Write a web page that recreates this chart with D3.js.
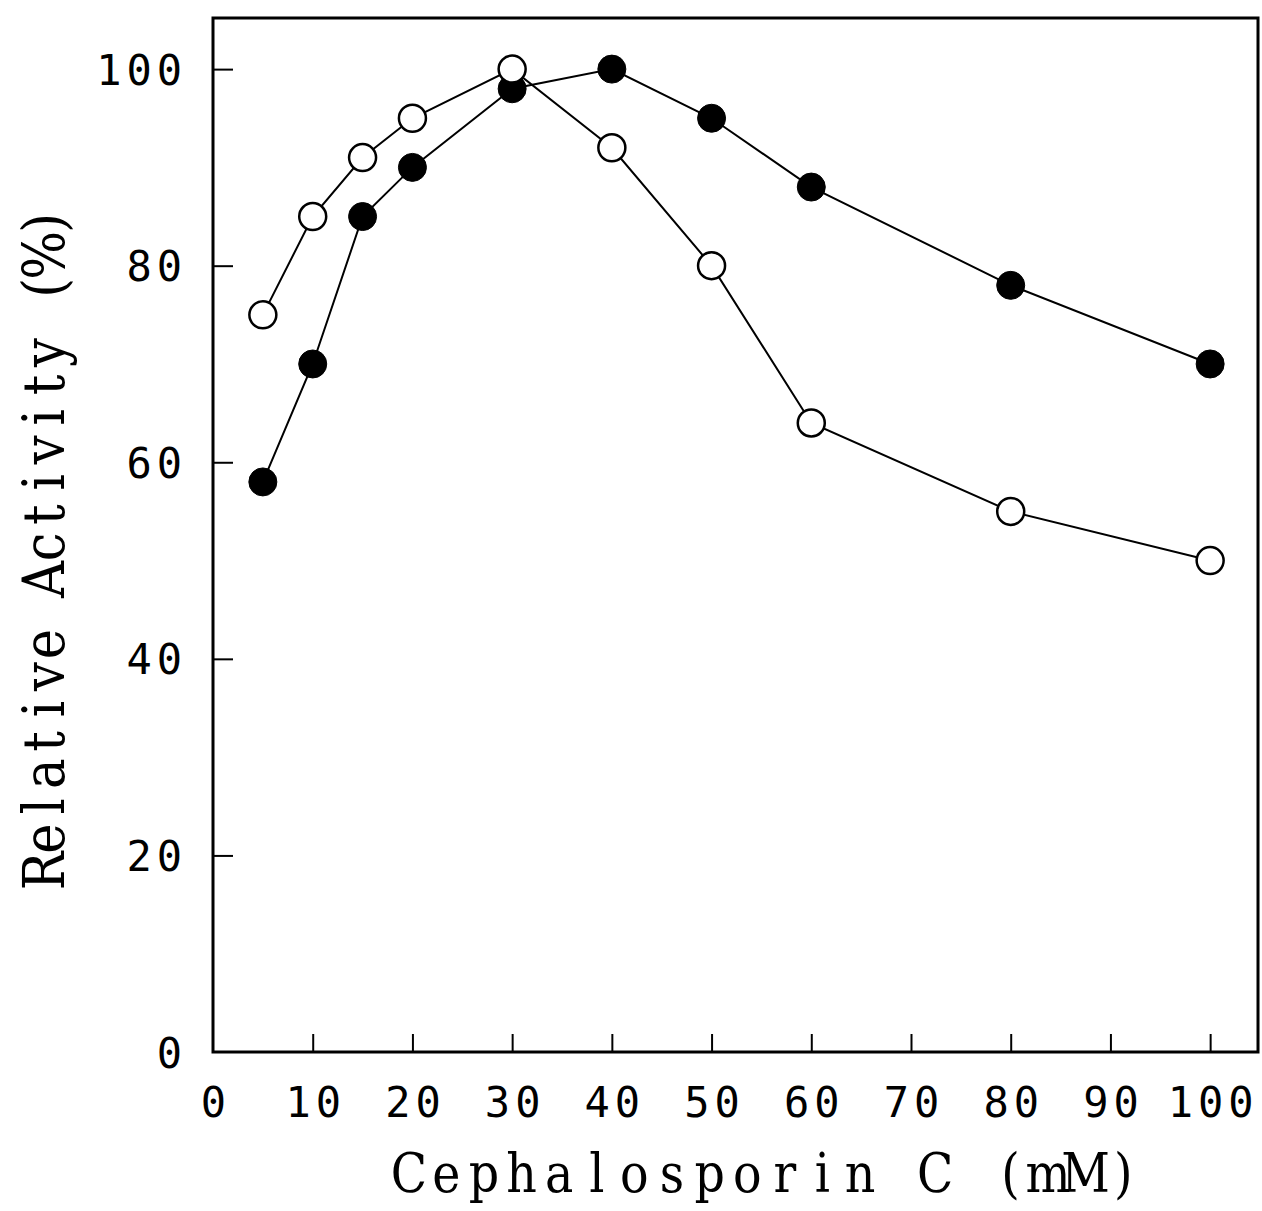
<!DOCTYPE html>
<html>
<head>
<meta charset="utf-8">
<script src="https://cdn.jsdelivr.net/npm/d3@7"></script>
<style>
  html, body { margin: 0; padding: 0; background: #fff; }
  svg { display: block; }
</style>
</head>
<body>
<svg id="chart" width="1262" height="1211"></svg>
<script>
// ---- data ----
const concentrations = [5, 10, 15, 20, 30, 40, 50, 60, 80, 100];
const openSeries   = [75, 85, 91, 95, 100, 92, 80, 64, 55, 50];
const filledSeries = [58, 70, 85, 90, 98, 100, 95, 88, 78, 70];
const xTicks = [0, 10, 20, 30, 40, 50, 60, 70, 80, 90, 100];
const yTicks = [0, 20, 40, 60, 80, 100];
const xTitle = "Cephalosporin C (mM)";
const yTitle = "Relative Activity (%)";

// ---- layout ----
const svg = d3.select("#chart");
const L = 213, R = 1258, T = 18, B = 1052;
const x = d3.scaleLinear().domain([0, 104.8]).range([L, R]);
const y = d3.scaleLinear().domain([0, 105.2]).range([B, T]);

const tickFont = "'DejaVu Sans Mono', monospace";
const titleFont = "'DejaVu Serif', serif";

// frame
svg.append("rect")
  .attr("x", L).attr("y", T).attr("width", R - L).attr("height", B - T)
  .attr("fill", "none").attr("stroke", "#000").attr("stroke-width", 3);

// bottom axis (inward ticks)
const xAxis = d3.axisBottom(x).tickValues(xTicks).tickSizeInner(-18).tickSizeOuter(0)
  .tickFormat(d3.format("d"));
const gx = svg.append("g").attr("transform", `translate(0,${B})`).call(xAxis);
gx.select(".domain").remove();
gx.selectAll(".tick line").attr("stroke", "#000").attr("stroke-width", 2)
  .filter(d => d === 0).remove();
gx.selectAll(".tick text")
  .attr("font-family", tickFont).attr("font-size", 42).attr("fill", "#000")
  .attr("letter-spacing", 5)
  .attr("dy", null).attr("y", 65).attr("dx", 2.5);

// left axis (inward ticks)
const yAxis = d3.axisLeft(y).tickValues(yTicks).tickSizeInner(-20).tickSizeOuter(0)
  .tickFormat(d3.format("d"));
const gy = svg.append("g").attr("transform", `translate(${L},0)`).call(yAxis);
gy.select(".domain").remove();
gy.selectAll(".tick line").attr("stroke", "#000").attr("stroke-width", 2)
  .filter(d => d === 0).remove();
gy.selectAll(".tick text")
  .attr("font-family", tickFont).attr("font-size", 42).attr("fill", "#000")
  .attr("letter-spacing", 5)
  .attr("x", -26).attr("dy", "0.36em");

// lines
const line = d3.line().x(d => x(d[0])).y(d => y(d[1]));
const openPts = concentrations.map((c, i) => [c, openSeries[i]]);
const filledPts = concentrations.map((c, i) => [c, filledSeries[i]]);

[openPts, filledPts].forEach(pts => {
  svg.append("path").datum(pts).attr("d", line)
    .attr("fill", "none").attr("stroke", "#000").attr("stroke-width", 2);
});

// markers
svg.append("g").selectAll("circle").data(filledPts).join("circle")
  .attr("cx", d => x(d[0])).attr("cy", d => y(d[1])).attr("r", 14)
  .attr("fill", "#000").attr("stroke", "#000").attr("stroke-width", 1);
svg.append("g").selectAll("circle").data(openPts).join("circle")
  .attr("cx", d => x(d[0])).attr("cy", d => y(d[1])).attr("r", 13.5)
  .attr("fill", "#fff").attr("stroke", "#000").attr("stroke-width", 2.5);

// typewriter-style titles: one glyph per fixed-width cell, glyphs narrowed
function monoTitle(str, cell, sx, fontSize, transform) {
  const n = str.length;
  const xs = d3.range(n).map(i => ((-n / 2 + i + 0.5) * cell / sx).toFixed(2)).join(" ");
  svg.append("text")
    .attr("transform", transform + ` scale(${sx},1)`)
    .attr("x", xs)
    .attr("text-anchor", "middle")
    .attr("font-family", titleFont).attr("font-size", fontSize).attr("fill", "#000")
    .attr("xml:space", "preserve")
    .text(str);
}

monoTitle(xTitle, 37.6, 0.88, 54, "translate(766,1192)");
monoTitle(yTitle, 32.4, 0.9, 57, "translate(64,547) rotate(-90)");
</script>
</body>
</html>
